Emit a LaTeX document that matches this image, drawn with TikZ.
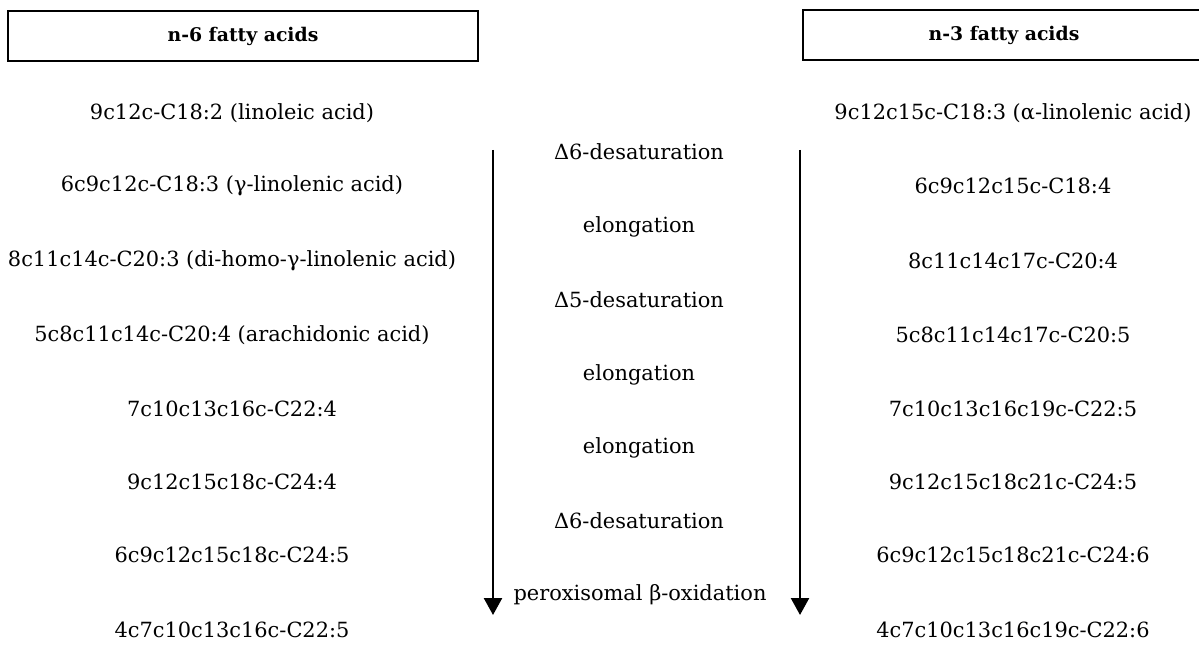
\documentclass[tikz,border=0pt]{standalone}
\usepackage{fontspec}
\setmainfont{DejaVu Serif}
\usetikzlibrary{positioning, arrows.meta}

\begin{document}
\begin{tikzpicture}[
  x=0.02cm, y=-0.02cm,
  header/.style={rectangle, draw, line width=1.4pt, minimum height=1cm, font=\fontsize{10.7}{12}\selectfont\bfseries, align=center},
  acid/.style={font=\fontsize{11.9}{13}\selectfont, align=center},
  enzyme/.style={font=\fontsize{11.9}{13}\selectfont, align=center},
  flow/.style={-{Triangle[width=0.36cm,length=0.34cm]}, line width=1.4pt}
]
\useasboundingbox (0,0) rectangle (1199,662);

% Headers
\node[header, minimum width=9.4cm] (n6head) at (243,36) {n-6 fatty acids};
\node[header, minimum width=8.04cm] (n3head) at (1004,35) {n-3 fatty acids};

% n-6 series
\node[acid] (n6a) at (232,113) {9c12c-C18:2 (linoleic acid)};
\node[acid] (n6b) at (232,186) {6c9c12c-C18:3 (γ-linolenic acid)};
\node[acid] (n6c) at (232,261) {8c11c14c-C20:3 (di-homo-γ-linolenic acid)};
\node[acid] (n6d) at (232,335) {5c8c11c14c-C20:4 (arachidonic acid)};
\node[acid] (n6e) at (232,409) {7c10c13c16c-C22:4};
\node[acid] (n6f) at (232,482) {9c12c15c18c-C24:4};
\node[acid] (n6g) at (232,555) {6c9c12c15c18c-C24:5};
\node[acid] (n6h) at (232,630) {4c7c10c13c16c-C22:5};

% Steps
\node[enzyme] (desat6a) at (639,152) {Δ6-desaturation};
\node[enzyme] (elonga) at (639,227) {elongation};
\node[enzyme] (desat5) at (639,300) {Δ5-desaturation};
\node[enzyme] (elongb) at (639,375) {elongation};
\node[enzyme] (elongc) at (639,448) {elongation};
\node[enzyme] (desat6b) at (639,521) {Δ6-desaturation};
\node[enzyme] (betaox) at (640,595) {peroxisomal β-oxidation};

% n-3 series
\node[acid] (n3a) at (1013,113) {9c12c15c-C18:3 (α-linolenic acid)};
\node[acid] (n3b) at (1013,186) {6c9c12c15c-C18:4};
\node[acid] (n3c) at (1013,261) {8c11c14c17c-C20:4};
\node[acid] (n3d) at (1013,335) {5c8c11c14c17c-C20:5};
\node[acid] (n3e) at (1013,409) {7c10c13c16c19c-C22:5};
\node[acid] (n3f) at (1013,482) {9c12c15c18c21c-C24:5};
\node[acid] (n3g) at (1013,555) {6c9c12c15c18c21c-C24:6};
\node[acid] (n3h) at (1013,630) {4c7c10c13c16c19c-C22:6};

% Arrows
\coordinate (ltop) at (493,150);
\coordinate (lend) at (493,615);
\coordinate (rtop) at (800,150);
\coordinate (rend) at (800,615);
\draw[flow] (ltop) -- (lend);
\draw[flow] (rtop) -- (rend);

\end{tikzpicture}
\end{document}
